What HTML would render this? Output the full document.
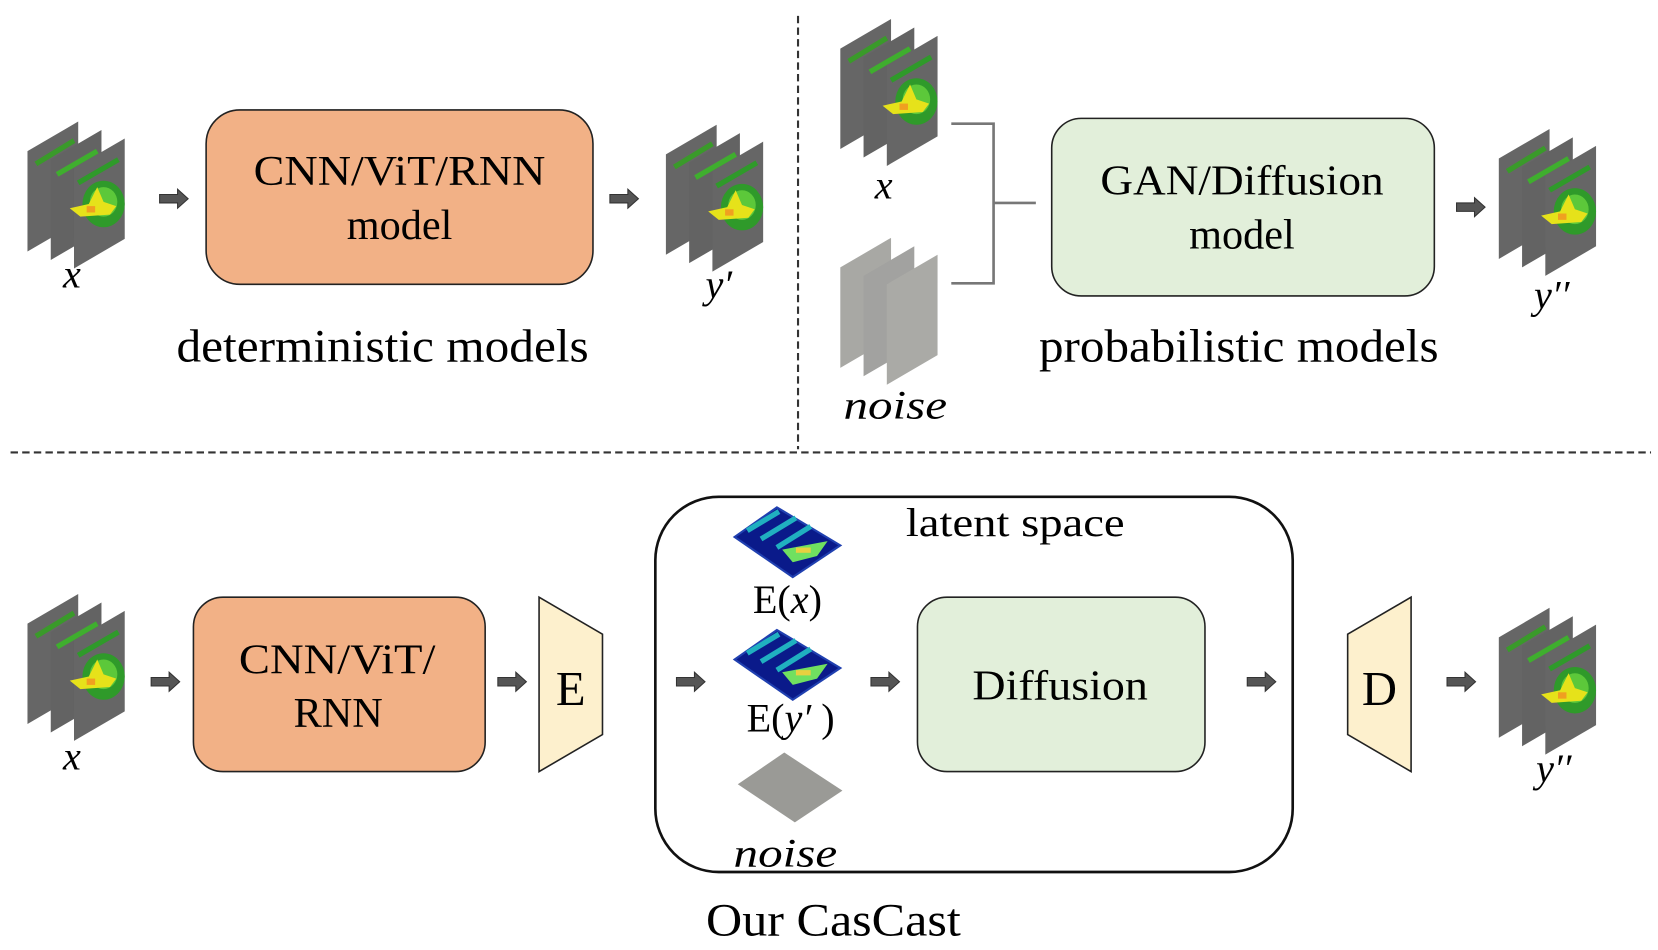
<!DOCTYPE html>
<html><head><meta charset="utf-8"><style>
html,body{margin:0;padding:0;background:#fff;}
svg{display:block;}
text{font-family:"Liberation Serif",serif;fill:#000;}
.it{font-style:italic;}
</style></head><body>
<svg width="1658" height="950" viewBox="0 0 1568.6 898.8" preserveAspectRatio="none" xmlns="http://www.w3.org/2000/svg">
<defs>
  <g id="arr"><path d="M0,-4 H17 V-9 L27,0 L17,9 V4 H0 Z" fill="#555" stroke="#333" stroke-width="1"/></g>
  <g id="stack">
    <polygon points="0,28 48,0 48,95 0,123" fill="#666"/>
    <polygon points="22,36 70,8 70,103 22,131" fill="#636363"/>
    <polygon points="44,44 92,16 92,111 44,139" fill="#666"/>
    <path d="M8,40 L44,18" stroke="#3a9a2a" stroke-width="5"/>
    <path d="M28,50 L66,28" stroke="#3fae2e" stroke-width="5"/>
    <path d="M48,58 L86,36" stroke="#2f9a2a" stroke-width="5"/>
    <ellipse cx="72" cy="78" rx="20" ry="22" fill="#2f9a2a"/>
    <ellipse cx="72" cy="76" rx="13" ry="14" fill="#5cc83a"/>
    <path d="M40,82 L58,78 L66,62 L72,76 L84,80 L78,88 L50,90 Z" fill="#e6e21a"/>
    <rect x="56" y="80" width="8" height="6" fill="#f0a020"/>
  </g>
  <g id="noise">
    <polygon points="0,28 48,0 48,95 0,123" fill="#a8a8a4"/>
    <polygon points="22,36 70,8 70,103 22,131" fill="#a2a2a0"/>
    <polygon points="44,44 92,16 92,111 44,139" fill="#aaaaa6"/>
  </g>
  <g id="lat">
    <polygon points="0,28 40,0 100,36 55,66" fill="#0a1a8a"/>
    <polygon points="0,28 40,0 100,36 55,66" fill="none" stroke="#2040b0" stroke-width="2"/>
    <path d="M12,22 L42,4 M25,30 L58,10 M40,38 L72,18" stroke="#20b0c0" stroke-width="5"/>
    <path d="M45,40 L88,32 L78,46 L55,52 Z" fill="#70e060"/>
    <rect x="58" y="38" width="14" height="5" fill="#e8d040"/>
  </g>
</defs>

<line x1="755" y1="15" x2="755" y2="425" stroke="#333" stroke-width="2" stroke-dasharray="7,4"/>
<line x1="10" y1="428" x2="1562" y2="428" stroke="#333" stroke-width="2" stroke-dasharray="7,4"/>

<use href="#stack" x="26" y="115"/>
<text x="68" y="272" font-size="38" class="it" text-anchor="middle">x</text>
<use href="#arr" x="151" y="188"/>
<rect x="195" y="104" width="366" height="165" rx="32" fill="#f2b186" stroke="#222" stroke-width="1.5"/>
<text x="240" y="175" font-size="40" textLength="276" lengthAdjust="spacingAndGlyphs">CNN/ViT/RNN</text>
<text x="378" y="226" font-size="40" text-anchor="middle">model</text>
<use href="#arr" x="577" y="188"/>
<use href="#stack" x="630" y="118"/>
<text x="680" y="282" font-size="38" class="it" text-anchor="middle">y′</text>
<text x="167" y="342" font-size="44" textLength="390" lengthAdjust="spacingAndGlyphs">deterministic models</text>

<use href="#stack" x="795" y="18"/>
<text x="836" y="188" font-size="38" class="it" text-anchor="middle">x</text>
<use href="#noise" x="795" y="225"/>
<text x="798" y="396" font-size="38" class="it" textLength="98" lengthAdjust="spacingAndGlyphs">noise</text>
<path d="M900,117 H940 V268 H900 M940,192 H980" fill="none" stroke="#777" stroke-width="2.5"/>
<rect x="995" y="112" width="362" height="168" rx="28" fill="#e2efda" stroke="#222" stroke-width="1.5"/>
<text x="1041" y="184" font-size="40" textLength="268" lengthAdjust="spacingAndGlyphs">GAN/Diffusion</text>
<text x="1175" y="235" font-size="40" text-anchor="middle">model</text>
<use href="#arr" x="1378" y="196"/>
<use href="#stack" x="1418" y="122"/>
<text x="1468" y="292" font-size="38" class="it" text-anchor="middle">y′′</text>
<text x="983" y="342" font-size="44" textLength="378" lengthAdjust="spacingAndGlyphs">probabilistic models</text>

<use href="#stack" x="26" y="562"/>
<text x="68" y="728" font-size="38" class="it" text-anchor="middle">x</text>
<use href="#arr" x="143" y="645"/>
<rect x="183" y="565" width="276" height="165" rx="28" fill="#f2b186" stroke="#222" stroke-width="1.5"/>
<text x="226" y="637" font-size="40" textLength="186" lengthAdjust="spacingAndGlyphs">CNN/ViT/</text>
<text x="320" y="688" font-size="40" text-anchor="middle">RNN</text>
<use href="#arr" x="471" y="645"/>
<polygon points="510,565 570,600 570,695 510,730" fill="#fdf0cd" stroke="#222" stroke-width="1.5"/>
<text x="540" y="667" font-size="46" text-anchor="middle">E</text>

<rect x="620" y="470" width="603" height="355" rx="60" fill="none" stroke="#111" stroke-width="2.5"/>
<text x="857" y="507" font-size="38" textLength="207" lengthAdjust="spacingAndGlyphs">latent space</text>
<use href="#arr" x="640" y="645"/>
<use href="#lat" x="695" y="480"/>
<text x="745" y="580" font-size="38" text-anchor="middle">E(<tspan class="it">x</tspan>)</text>
<use href="#lat" x="695" y="596"/>
<text x="748" y="692" font-size="38" text-anchor="middle">E(<tspan class="it">y′</tspan> )</text>
<polygon points="698,742 742,712 797,748 752,778" fill="#9a9a96"/>
<text x="694" y="820" font-size="38" class="it" textLength="98" lengthAdjust="spacingAndGlyphs">noise</text>
<use href="#arr" x="824" y="645"/>
<rect x="868" y="565" width="272" height="165" rx="28" fill="#e2efda" stroke="#222" stroke-width="1.5"/>
<text x="920" y="662" font-size="40" textLength="166" lengthAdjust="spacingAndGlyphs">Diffusion</text>
<use href="#arr" x="1180" y="645"/>
<polygon points="1275,600 1335,565 1335,730 1275,695" fill="#fdf0cd" stroke="#222" stroke-width="1.5"/>
<text x="1305" y="667" font-size="46" text-anchor="middle">D</text>
<use href="#arr" x="1369" y="645"/>
<use href="#stack" x="1418" y="575"/>
<text x="1470" y="740" font-size="38" class="it" text-anchor="middle">y′′</text>
<text x="668" y="885" font-size="44" textLength="241" lengthAdjust="spacingAndGlyphs">Our CasCast</text>
</svg>
</body></html>
